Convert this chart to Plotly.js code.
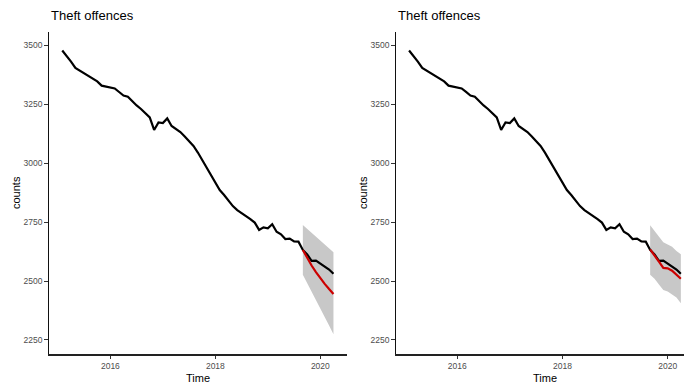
<!DOCTYPE html>
<html>
<head>
<meta charset="utf-8">
<script src="https://cdn.plot.ly/plotly-3.0.1.min.js"></script>
<style>html,body{margin:0;padding:0;background:#fff;}#chart{width:684px;height:388px;}</style>
</head>
<body>
<div id="chart"></div>
<script>
// Monthly series starting Feb 2015
const startYear = 2015;
const startMonth = 2;
const observed = [3478,3456,3431,3404,3393,3380,3368,3357,3347,3329,
  3324,3321,3317,3302,3287,3282,3262,3245,3230,3211,
  3194,3141,3173,3170,3190,3158,3145,3132,3113,3093,
  3073,3045,3013,2982,2950,2920,2886,2865,2842,2818,
  2801,2789,2778,2763,2748,2717,2728,2724,2741,2709,
  2698,2678,2680,2668,2667,2632,2613,2586,2587,2575,
  2564,2549,2531];
const forecastStartIndex = 55; // Sep 2019
const fcLeft   = [2632,2598,2566,2538,2511,2488,2466,2445];
const fcLeftLo = [2527,2492,2455,2418,2383,2347,2311,2274];
const fcLeftHi = [2738,2722,2705,2689,2672,2655,2638,2622];
const fcRight   = [2634,2610,2582,2556,2554,2544,2529,2510];
const fcRightLo = [2527,2510,2485,2462,2456,2443,2430,2406];
const fcRightHi = [2737,2712,2690,2665,2655,2645,2628,2614];
const titleText = "Theft offences";
const xTitle = "Time";
const yTitle = "counts";
const xTicks = [2016, 2018, 2020];
const yTicks = [2250, 2500, 2750, 3000, 3250, 3500];

const time = observed.map((_, i) => startYear + (startMonth - 1 + i) / 12);
const fcTime = fcLeft.map((_, i) => time[forecastStartIndex + i]);

const W = 684, H = 388;
const px = v => v / W;
const py = v => 1 - v / H;
const FONT = "Liberation Sans, Arial, Helvetica, sans-serif";
const SHADE = "rgb(200,200,200)";
const RED = "#CC0000";

function panel(xa, ya, lo, hi, fc) {
  return [
    {x: fcTime, y: lo, xaxis: xa, yaxis: ya, mode: "lines", line: {width: 0, color: SHADE}, hoverinfo: "skip", showlegend: false},
    {x: fcTime, y: hi, xaxis: xa, yaxis: ya, mode: "lines", line: {width: 0, color: SHADE}, fill: "tonexty", fillcolor: SHADE, hoverinfo: "skip", showlegend: false},
    {x: time, y: observed, xaxis: xa, yaxis: ya, mode: "lines", line: {width: 2.2, color: "#000"}, showlegend: false},
    {x: fcTime, y: fc, xaxis: xa, yaxis: ya, mode: "lines", line: {width: 2.2, color: RED}, showlegend: false}
  ];
}

const data = [].concat(panel("x", "y", fcLeftLo, fcLeftHi, fcLeft), panel("x2", "y2", fcRightLo, fcRightHi, fcRight));

function xaxisDef(domain, range, anchor) {
  return {
    domain: domain, range: range, anchor: anchor,
    showgrid: false, zeroline: false, showline: true, linecolor: "#222", linewidth: 1.2,
    ticks: "outside", ticklen: 3.5, tickwidth: 1, tickcolor: "#333",
    tickvals: xTicks, ticktext: xTicks.map(String),
    tickfont: {family: FONT, size: 8.5, color: "#4D4D4D"}
  };
}
function yaxisDef(anchor) {
  return {
    domain: [1 - 354.3 / H, 1 - 31.7 / H], range: [2189.3, 3557.7], anchor: anchor,
    showgrid: false, zeroline: false, showline: true, linecolor: "#111", linewidth: 1.1,
    ticks: "outside", ticklen: 3.5, tickwidth: 1, tickcolor: "#333",
    tickvals: yTicks, ticktext: yTicks.map(String),
    tickfont: {family: FONT, size: 8.5, color: "#4D4D4D"}
  };
}

const annotations = [];
[0, 347].forEach(off => {
  annotations.push({text: titleText, xref: "paper", yref: "paper", x: px(48.5 + off), y: py(16), xanchor: "left", yanchor: "middle", showarrow: false, font: {family: FONT, size: 13, color: "#000"}});
  annotations.push({text: xTitle, xref: "paper", yref: "paper", x: px(198 + off), y: py(377.5), xanchor: "center", yanchor: "middle", showarrow: false, font: {family: FONT, size: 11, color: "#000"}});
  annotations.push({text: yTitle, xref: "paper", yref: "paper", x: px(16 + off), y: py(193), xanchor: "center", yanchor: "middle", textangle: -90, showarrow: false, font: {family: FONT, size: 11, color: "#000"}});
});

const layout = {
  width: W, height: H,
  margin: {l: 0, r: 0, t: 0, b: 0, pad: 0},
  paper_bgcolor: "#fff", plot_bgcolor: "#fff",
  showlegend: false,
  xaxis: xaxisDef([px(48.7), px(347)], [2014.825, 2020.508], "y"),
  yaxis: yaxisDef("x"),
  xaxis2: xaxisDef([px(395.7), 1], [2014.829, 2020.31], "y2"),
  yaxis2: yaxisDef("x2"),
  annotations: annotations
};

Plotly.newPlot("chart", data, layout, {staticPlot: true, displayModeBar: false});
</script>
</body>
</html>
